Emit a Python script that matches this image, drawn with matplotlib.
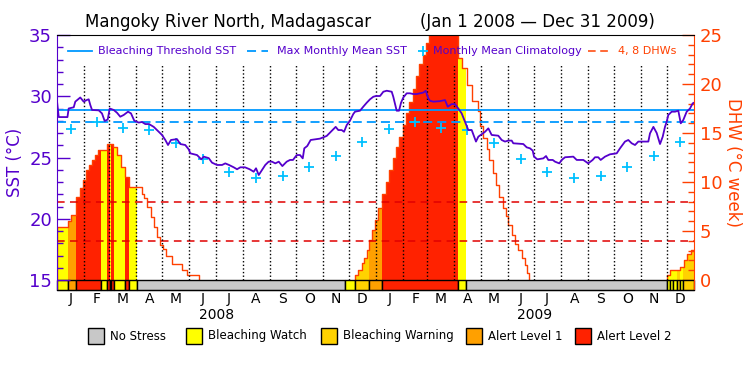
import numpy as np
import matplotlib
matplotlib.use('Agg')
import matplotlib.pyplot as plt
from matplotlib.lines import Line2D
from matplotlib.patches import Rectangle

plt.rcParams['font.family'] = 'DejaVu Sans'

# renkler
PURPLE = '#5500cc'
ORANGE_RED = '#ff4000'
BLUE = '#0099ff'
CYAN = '#00c0ff'
DHW_DASH = '#e00000'
ALERT_COLORS = ['#c8c8c8', '#ffff00', '#ffd200', '#ffa000', '#ff2200']
ALERT_NAMES = ['No Stress', 'Bleaching Watch', 'Bleaching Warning', 'Alert Level 1', 'Alert Level 2']

# ---- veri (gun = 1 Ocak 2008'den beri) ----
sst_day = [0, 2, 12, 13.4, 19.2, 21, 26.7, 30.6, 34.4, 36.4,
           38.2, 40.2, 47.9, 51.6, 54.7, 58.2, 60.5, 65.1, 68.9, 72.6,
           76.5, 81.5, 84.9, 88.7, 93.8, 97.5, 101.3, 105.6, 111, 114.8,
           120.5, 124.3, 127.4, 130.8, 137.7, 141.5, 147.2, 151.1, 153, 160.7,
           165.6, 168.4, 174.1, 177.9, 183.6, 189.4, 193.1, 197.4, 202.8, 206.6,
           210.4, 215.7, 221.1, 225.7, 228.4, 231.5, 235.3, 239, 242.9, 246.7,
           250.5, 254.5, 258.6, 263.6, 267.4, 270.8, 275.1, 278.9, 282, 283.8,
           287.2, 291.1, 301.8, 305.6, 309.5, 313.3, 317.1, 319.8, 322.8, 326.7,
           329.4, 332.5, 336.2, 340, 342, 347.7, 351.5, 355.4, 359.2, 363,
           366.1, 370.7, 374.5, 378.4, 384.1, 385.9, 387.9, 389.8, 392.5, 394.8,
           397.4, 401.3, 405.1, 408.9, 412.8, 416.6, 420.4, 423.1, 426.1, 428,
           431.8, 439.5, 445.3, 448.4, 452.9, 456.7, 460.5, 464.4, 468.2, 472,
           475.9, 480.8, 483.5, 487.4, 491.2, 495, 498.8, 506.4, 510.3, 514.1,
           517.9, 521.8, 523.6, 535.1, 539, 542.8, 545.9, 547.4, 551.2, 558.1,
           561.2, 563.8, 568.9, 571.5, 576.4, 579.2, 583, 592.5, 596.4, 604,
           609.6, 614.7, 617.4, 621.1, 623.9, 628.9, 634.6, 642.3, 646.1, 651.8,
           655.6, 659.5, 663.3, 667.1, 678.6, 680.5, 684.4, 688.2, 692, 695.1,
           697.7, 699.7, 701.5, 705.4, 709.2, 713, 715.8, 718.7, 722.6, 726.4,
           729.5, 731]
sst_val = [29.6, 28.3, 28.3, 29.0, 29.1, 29.56, 29.9, 29.56, 29.7, 29.75,
           29.29, 28.88, 28.85, 28.6, 27.98, 28.1, 29.0, 28.88, 28.65, 28.33,
           28.47, 28.74, 28.6, 28.0, 27.85, 27.9, 27.73, 27.73, 27.5, 27.24,
           26.84, 26.43, 26.02, 26.43, 26.5, 26.1, 26.02, 25.67, 25.34, 25.2,
           24.85, 25.07, 24.95, 24.58, 24.39, 24.39, 24.52, 24.39, 24.2, 24.04,
           24.2, 24.2, 24.04, 23.84, 24.12, 23.57, 23.98, 24.39, 24.66, 24.66,
           24.52, 24.66, 24.3, 24.66, 24.8, 24.8, 25.2, 25.2, 24.93, 25.75,
           25.94, 26.43, 26.54, 26.65, 26.76, 27.03, 27.3, 27.5, 27.24, 27.24,
           27.1, 27.65, 28.0, 28.55, 28.74, 28.82, 29.15, 29.47, 29.75, 29.96,
           30.02, 30.02, 30.37, 30.45, 30.37, 29.96, 29.39, 28.82, 28.82, 29.47,
           29.9, 30.24, 30.24, 30.18, 30.18, 30.24, 30.3, 30.45, 29.83, 29.63,
           29.56, 29.6, 29.69, 29.15, 29.36, 29.36, 29.0, 28.6, 27.93, 27.24,
           27.24, 26.3, 26.7, 26.9, 27.1, 27.38, 26.84, 26.78, 26.43, 26.3,
           26.38, 26.38, 26.16, 26.1, 25.83, 25.75, 25.56, 25.07, 24.85, 24.93,
           25.12, 24.8, 24.8, 24.66, 24.52, 24.8, 25.02, 25.07, 24.8, 24.8,
           24.52, 24.8, 25.02, 25.02, 24.8, 25.07, 25.26, 25.34, 25.75, 26.3,
           26.43, 26.16, 26.02, 26.3, 26.3, 26.97, 27.5, 27.0, 26.1, 26.7,
           27.5, 27.93, 28.47, 28.74, 28.74, 28.82, 27.79, 28.06, 28.74, 29.0,
           29.42, 29.47]

# aylik ortalama klimatoloji (Oca..Ara)
clim_val = [27.3, 27.87, 27.43, 27.24, 26.16, 24.88, 23.84, 23.3, 23.49, 24.2, 25.15, 26.29]
mmm = 27.9
bleach_threshold = 28.9
dhw_levels = [4, 8]

# DHW olaylari (basamak baslangic gunu, deger)
dhw_2008_day = [0, 13.0, 15.7, 21.8, 26.4, 30.2, 33.3, 36.4, 40.2, 43.6, 47.4, 57.7, 64.6,
                69.2, 73.1, 78.0, 83.0, 97.2, 99.8, 102.9, 107.5, 111.3, 115.1, 118.2,
                121.7, 125.1, 132.0, 143.4, 149.2, 163.3]
dhw_2008_val = [5.37, 6.05, 6.63, 8.44, 9.35, 10.2, 11.2, 11.73, 12.24, 12.76, 13.27, 13.84, 13.54,
                12.76, 11.56, 10.48, 9.46, 8.78, 8.33, 7.41, 6.46, 5.44, 4.42, 3.57,
                3.13, 2.45, 1.63, 1.02, 0.51, 0]
dhw_2009_day = [342.0, 345.8, 349.7, 352.3, 355.4, 358.1, 361.2, 365.0, 368.7, 373.3,
                377.6, 381.4, 385.3, 389.0, 392.8, 396.7, 400.5, 404.3, 408.2, 412.0,
                415.8, 419.7, 423.5, 427.3, 431.2, 435.0, 438.8, 442.7, 446.5, 450.3,
                454.2, 459.8, 464.8, 470.2, 476.6, 483.1, 485.4, 489.2, 492.9, 496.1,
                500.7, 503.8, 507.6, 511.5, 515.3, 517.9, 521.8, 525.6, 529.4, 533.3,
                537.1, 539.7, 541.7]
dhw_2009_val = [0.5, 1.0, 1.7, 2.2, 3.1, 4.1, 5.1, 6.1, 7.3, 8.8,
                10.0, 11.2, 12.4, 13.6, 14.6, 15.8, 17.0, 18.2, 19.5, 20.8,
                22.0, 23.0, 24.2, 25.4, 26.4, 27.2, 27.8, 28.2, 28.4, 28.4,
                28.2, 22.7, 21.6, 19.9, 18.3, 17.2, 15.7, 14.5, 13.4, 12.2,
                10.9, 9.7, 8.5, 7.3, 6.5, 5.6, 4.6, 3.7, 3.06, 2.2,
                1.53, 0.7, 0]
dhw_dec09_day = [700.5, 704.0, 707.5, 711.0, 715.0, 719.0, 723.0, 727.0, 731.0]
dhw_dec09_val = [0.5, 1.0, 1.0, 1.0, 1.3, 2.0, 2.7, 3.1, 3.1]

# uyari seviyesi seridi (0 yok, 1 watch, 2 warning, 3 alert1, 4 alert2)
alert_edges = [0, 13.0, 22.0, 51.0, 57.5, 60.3, 62.3, 65.0, 78.3, 82.5, 91.7, 331.0,
               342.3, 357.7, 373.3, 460.5, 469.5, 699.7, 703.5, 707.3, 711.1, 715.0, 718.8, 731]
alert_level = [1, 3, 4, 1, 4, 1, 4, 1, 4, 1, 0, 1, 2, 3, 4, 1, 0, 1, 1, 1, 2, 1, 2]

month_letters = list('JFMAMJJASOND') * 2
year_labels = ['2008', '2009']

# ---- eksenler ----
W, H = 750, 375
SST_LO = 15 - 10 / 12.25
DHW_LO = -10 / 9.8

fig = plt.figure(figsize=(7.5, 3.75), dpi=100)
ax = fig.add_axes([57 / W, 1 - 290 / H, 637 / W, 255 / H])   # DHW (sag)
ax.set_xlim(0, 731)
ax.set_ylim(DHW_LO, 25)
ax2 = ax.twinx()                                               # SST (sol)
ax2.set_ylim(SST_LO, 35)

for s in ax.spines.values():
    s.set_visible(False)
ax2.spines['left'].set_color(PURPLE)
ax2.spines['right'].set_color(ORANGE_RED)
ax2.spines['top'].set_color('black')
ax2.spines['bottom'].set_color('black')

# ay sinirlari
months = np.arange('2008-01', '2010-01', dtype='datetime64[M]')
m_start = (months.astype('datetime64[D]') - np.datetime64('2008-01-01')).astype(float)
m_end = np.r_[m_start[1:], 731.0]
m_mid = (m_start + m_end) / 2

# DHW dolgusu + cizgi
a_lo = np.array(alert_edges[:-1])
a_hi = np.array(alert_edges[1:])
for days, vals in [(dhw_2008_day, dhw_2008_val), (dhw_2009_day, dhw_2009_val),
                   (dhw_dec09_day, dhw_dec09_val)]:
    for i in range(len(days) - 1):
        d0, d1, v = days[i], days[i + 1], vals[i]
        for lo, hi, lev in zip(a_lo, a_hi, alert_level):
            s0, s1 = max(d0, lo), min(d1, hi)
            if s1 > s0 and lev > 0 and v > 0:
                ax.bar(s0, v, width=s1 - s0, align='edge', color=ALERT_COLORS[lev],
                       linewidth=0, zorder=1)
    ax.step(np.r_[days[0], days], np.r_[0, vals], where='post', color=ORANGE_RED,
            lw=1.0, zorder=2)

for lv in dhw_levels:
    ax.axhline(lv, color=DHW_DASH, lw=1.1, ls=(0, (5, 3.5)), zorder=3)

# uyari seridi
for lo, hi, lev in zip(a_lo, a_hi, alert_level):
    ax.bar(lo, DHW_LO, width=hi - lo, bottom=0, align='edge', color=ALERT_COLORS[lev],
           edgecolor='black', linewidth=1.0, zorder=4, clip_on=False)

# SST tarafi
ax2.vlines(m_start[1:], 15, 32.55, colors='black', linestyles=(0, (1, 1.6)), lw=1.0, zorder=1)
ax2.axhline(bleach_threshold, color=BLUE, lw=1.3, zorder=2)
ax2.axhline(mmm, color=BLUE, lw=1.3, ls=(0, (5, 2.8)), zorder=2)
ax2.plot(m_mid, clim_val * 2, '+', color=CYAN, ms=7, mew=1.3, zorder=3)
ax2.plot(sst_day, sst_val, color=PURPLE, lw=1.3, zorder=4)

# tik ayarlari
ax2.yaxis.tick_left()
ax2.yaxis.set_label_position('left')
ax2.set_yticks(range(15, 36, 5))
ax2.set_yticks(range(15, 36), minor=True)
ax2.tick_params(axis='y', which='major', direction='in', length=9.5, width=1,
                color=PURPLE, labelcolor=PURPLE, labelsize=13, pad=3.5)
ax2.tick_params(axis='y', which='minor', direction='in', length=4.5, width=1, color=PURPLE)
ax2.set_ylabel('SST (°C)', color=PURPLE, fontsize=12, labelpad=4)

ax.yaxis.tick_right()
ax.yaxis.set_label_position('right')
ax.set_yticks(range(0, 26, 5))
ax.set_yticks(range(0, 26), minor=True)
ax.tick_params(axis='y', which='major', direction='in', length=9, width=1,
               color=ORANGE_RED, labelcolor=ORANGE_RED, labelsize=13, pad=4)
ax.tick_params(axis='y', which='minor', direction='in', length=4.5, width=1, color=ORANGE_RED)
ax.set_ylabel('DHW (°C week)', color=ORANGE_RED, fontsize=12, rotation=270, labelpad=14)

ax.set_xticks(m_mid, month_letters)
ax.tick_params(axis='x', length=0, labelsize=10, pad=1.5)
for lab, mid in zip(year_labels, [183, 548]):
    ax.text(mid, -0.07, lab, transform=ax.get_xaxis_transform(), ha='center', va='top',
            fontsize=10)

# baslik
fig.text(228 / W, 1 - 22 / H, 'Mangoky River North, Madagascar', ha='center', va='center',
         fontsize=12)
fig.text(537 / W, 1 - 22 / H, '(Jan 1 2008 — Dec 31 2009)', ha='center', va='center',
         fontsize=12)

# ust lejant
ly = 1 - 51 / H
fig.add_artist(Line2D([68 / W, 92 / W], [ly, ly], color=BLUE, lw=1.3))
fig.text(98 / W, ly, 'Bleaching Threshold SST', color=PURPLE, fontsize=8, va='center')
fig.add_artist(Line2D([247 / W, 268 / W], [ly, ly], color=BLUE, lw=1.3, ls=(0, (5, 3))))
fig.text(277 / W, ly, 'Max Monthly Mean SST', color=PURPLE, fontsize=8, va='center')
fig.add_artist(Line2D([422.7 / W], [ly], color=CYAN, marker='+', ms=7, mew=1.3))
fig.text(433 / W, ly, 'Monthly Mean Climatology', color=PURPLE, fontsize=8, va='center')
fig.add_artist(Line2D([588 / W, 609 / W], [ly, ly], color=ORANGE_RED, lw=1.1, ls=(0, (5, 3))))
fig.text(618 / W, ly, '4, 8 DHWs', color=ORANGE_RED, fontsize=8, va='center')

# alt lejant
box_x = [88, 186, 321, 466, 575]
by = 336
for bx, name, col in zip(box_x, ALERT_NAMES, ALERT_COLORS):
    fig.add_artist(Rectangle((bx / W, 1 - (by + 8) / H), 16 / W, 16 / H, facecolor=col,
                             edgecolor='black', lw=1, transform=fig.transFigure))
    fig.text((bx + 22) / W, 1 - by / H, name, fontsize=8.5, va='center')

fig.savefig('out.png', dpi=100)
